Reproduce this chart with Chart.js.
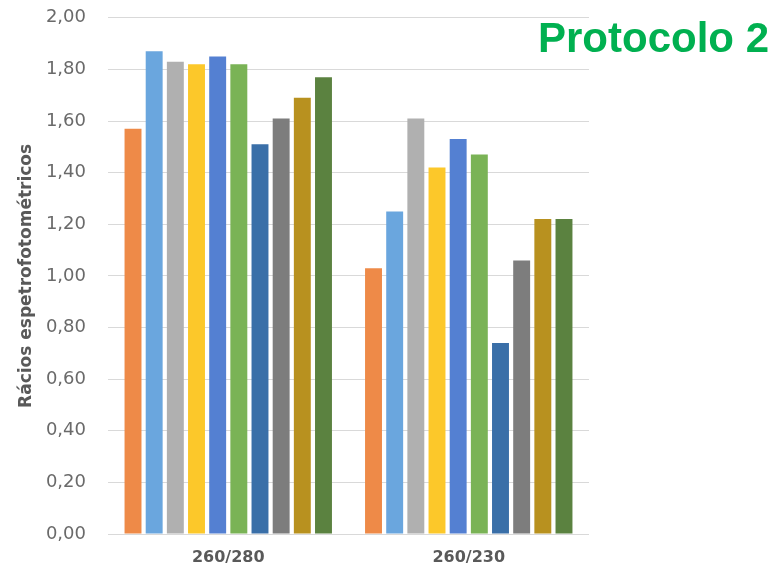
<!DOCTYPE html>
<html>
<head>
<meta charset="utf-8">
<script src="https://cdn.jsdelivr.net/npm/chart.js@4"></script>
<style>
  html, body { margin: 0; padding: 0; background: #ffffff; overflow: hidden; }
  #wrap { position: relative; width: 777px; height: 573px; overflow: hidden; }
  #chart { position: absolute; left: 0; top: -15px; }
  #protocolo {
    position: absolute; left: 538px; top: 14px;
    font: bold 42px "Liberation Sans", Arial, sans-serif;
    color: #00b050; white-space: nowrap; line-height: 48px;
  }
</style>
</head>
<body>
<div id="wrap">
  <canvas id="chart" width="777" height="588"></canvas>
  <div id="protocolo">Protocolo 2</div>
</div>
<script>
// Ratio categories on the x axis
const categories = ['260/280', '260/230'];

// Ten samples, each with its 260/280 and 260/230 ratio
const sample1  = [1.57, 1.03];
const sample2  = [1.87, 1.25];
const sample3  = [1.83, 1.61];
const sample4  = [1.82, 1.42];
const sample5  = [1.85, 1.53];
const sample6  = [1.82, 1.47];
const sample7  = [1.51, 0.74];
const sample8  = [1.61, 1.06];
const sample9  = [1.69, 1.22];
const sample10 = [1.77, 1.22];

const seriesValues = [sample1, sample2, sample3, sample4, sample5,
                      sample6, sample7, sample8, sample9, sample10];
const seriesColors = ['#ee8a48', '#6aa6de', '#b0b0b0', '#fcc82a', '#5480d2',
                      '#7ab356', '#3a6fa8', '#7d7d7d', '#b8911f', '#5b8240'];

// Y axis range and step
const yMin = 0;
const yMax = 2;
const yStep = 0.2;
const yTitle = 'Rácios espetrofotométricos';

const datasets = seriesValues.map((vals, i) => ({
  label: 'Amostra ' + (i + 1),
  data: vals,
  backgroundColor: seriesColors[i],
  borderWidth: 0,
  categoryPercentage: 0.88,
  barPercentage: 0.8
}));

const axisGrey = '#595959';

new Chart(document.getElementById('chart'), {
  type: 'bar',
  data: { labels: categories, datasets },
  options: {
    responsive: false,
    animation: false,
    devicePixelRatio: 1,
    layout: { padding: { top: 0, right: 188, bottom: 0, left: 0 } },
    plugins: {
      legend: { display: false },
      title: { display: false },
      tooltip: { enabled: false }
    },
    scales: {
      x: {
        grid: { display: false, drawTicks: false },
        border: { display: false },
        ticks: {
          color: axisGrey,
          padding: 14,
          font: { family: '"DejaVu Sans", sans-serif', size: 16, weight: 'bold' }
        },
        afterFit: (scale) => { scale.height = 39; }
      },
      y: {
        min: yMin,
        max: yMax,
        grid: { color: '#d9d9d9', lineWidth: 1, drawTicks: false },
        border: { display: false },
        ticks: {
          stepSize: yStep,
          color: '#6a6a6a',
          padding: 22,
          font: { family: '"DejaVu Sans", sans-serif', size: 18 },
          callback: (v) => Number(v).toFixed(2).replace('.', ',')
        },
        title: {
          display: true,
          text: yTitle,
          color: axisGrey,
          padding: { top: 16, bottom: 0 },
          font: { family: '"DejaVu Sans", sans-serif', size: 17, weight: 'bold' }
        },
        afterFit: (scale) => { scale.width = 108; }
      }
    }
  }
});
</script>
</body>
</html>
